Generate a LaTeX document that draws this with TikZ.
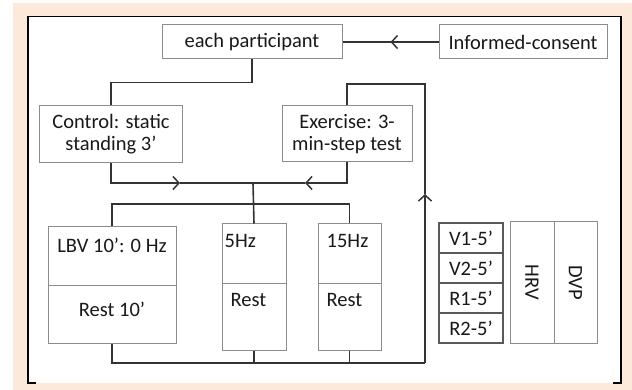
\documentclass[tikz,border=0pt]{standalone}
\usepackage{fontspec}
\setmainfont{Carlito}
\usetikzlibrary{positioning,arrows.meta,calc}
\definecolor{peach}{RGB}{252,233,218}

\begin{document}
\begin{tikzpicture}[x=1pt, y=-1pt,
  font=\fontsize{20.5}{22}\selectfont, text=black!90,
  box/.style={draw=black!45, line width=1pt, rectangle, inner sep=0pt, text centered, align=center},
  vbox/.style={draw=black!65, line width=1.3pt, rectangle, inner sep=0pt, minimum width=64pt, minimum height=30pt},
  txt/.style={inner sep=2pt},
  conn/.style={draw=black!80, line width=1.6pt},
  arr/.style={-{Straight Barb[length=6pt,width=13pt,line width=1.5pt]}}
]

\useasboundingbox (0,0) rectangle (632,390);
\fill[peach] (13,3) rectangle (632,390);
\fill[white] (28,17) rectangle (621,383);
\draw[line width=1.8pt] (36,383) -- (28,383) -- (28,16.5) -- (621,16.5) -- (621,383) -- (613,383);

\node (ep) [box, minimum width=180pt, minimum height=34pt] at (252,42) {each participant};
\node (ic) [box, right of=ep, node distance=271pt, minimum width=168pt, minimum height=34pt] {Informed-consent};

\node (ctrl) [box, minimum width=143pt, minimum height=57pt] at (111,134) {Control: static\\standing 3'};
\node (ex) [box, right of=ctrl, node distance=236pt, minimum width=130pt, minimum height=56pt] {Exercise: 3-\\min-step test};

% vibration blocks
\node (lbv) [box, minimum width=128pt, minimum height=58pt] at (112,256) {};
\node (lbvr) [box, below of=lbv, node distance=58pt, minimum width=128pt, minimum height=58pt] {};
\node (hz5) [box, minimum width=64pt, minimum height=59pt] at (254,253.5) {};
\node (hz5r) [box, below of=hz5, node distance=63pt, minimum width=64pt, minimum height=67pt] {};
\node (hz15) [box, right of=hz5, node distance=95.5pt, minimum width=63pt, minimum height=59pt] {};
\node (hz15r) [box, below of=hz15, node distance=63pt, minimum width=63pt, minimum height=67pt] {};

\node (lbvtxt) [txt, below=9pt of lbv.north] {LBV 10': 0 Hz};
\node (lbvrtxt) [txt, below=15pt of lbvr.north] {Rest 10'};
\node (hz5txt) [txt, below right=9pt and 1pt of hz5.north west] {5Hz};
\node (hz5rtxt) [txt, below right=9pt and 7pt of hz5r.north west] {Rest};
\node (hz15txt) [txt, below right=9pt and 7pt of hz15.north west] {15Hz};
\node (hz15rtxt) [txt, below right=9pt and 7pt of hz15r.north west] {Rest};

% measurement windows
\node (v1) [vbox] at (471,238) {V1-5'};
\node (v2) [vbox, below of=v1, node distance=30pt] {V2-5'};
\node (r1) [vbox, below of=v2, node distance=30pt] {R1-5'};
\node (r2) [vbox, below of=r1, node distance=30pt] {R2-5'};
\node (hrv) [box, minimum width=44pt, minimum height=121pt] at (532,282.5) {\rotatebox{-90}{HRV}};
\node (dvp) [box, right of=hrv, node distance=43.5pt, minimum width=43pt, minimum height=121pt] {\rotatebox{-90}{DVP}};

\coordinate (icarr) at ($(ic.west)!0.5!(ep.east)$);
\coordinate (jn) at (253,183);
\coordinate (ctrlarr) at (180,183);
\coordinate (exarr) at (305,183);
\coordinate (split) at (253,204);
\coordinate (loopbr) at (425,363);
\coordinate (looparr) at (425,194);
\coordinate (looptr) at (425,84);

\draw[conn, arr] (ic.west) -- (icarr);
\draw[conn] (icarr) -- (ep.east);
\draw[conn] (ep.south) -- ++(0,23) -| (ctrl.north);
\draw[conn, arr] (ctrl.south) |- (ctrlarr);
\draw[conn] (ctrlarr) -- (jn);
\draw[conn, arr] (ex.south) |- (exarr);
\draw[conn] (exarr) -- (jn);
\draw[conn] (jn) -- (hz5.north);
\draw[conn] (lbv.north) |- (split) -| (hz15.north);

\draw[conn] (lbvr.south) |- (loopbr);
\draw[conn] (hz5r.south) -- (hz5r.south |- loopbr);
\draw[conn] (hz15r.south) -- (hz15r.south |- loopbr);
\draw[conn, arr] (loopbr) -- (looparr);
\draw[conn] (looparr) -- (looptr) -| (ex.north);

\end{tikzpicture}
\end{document}
